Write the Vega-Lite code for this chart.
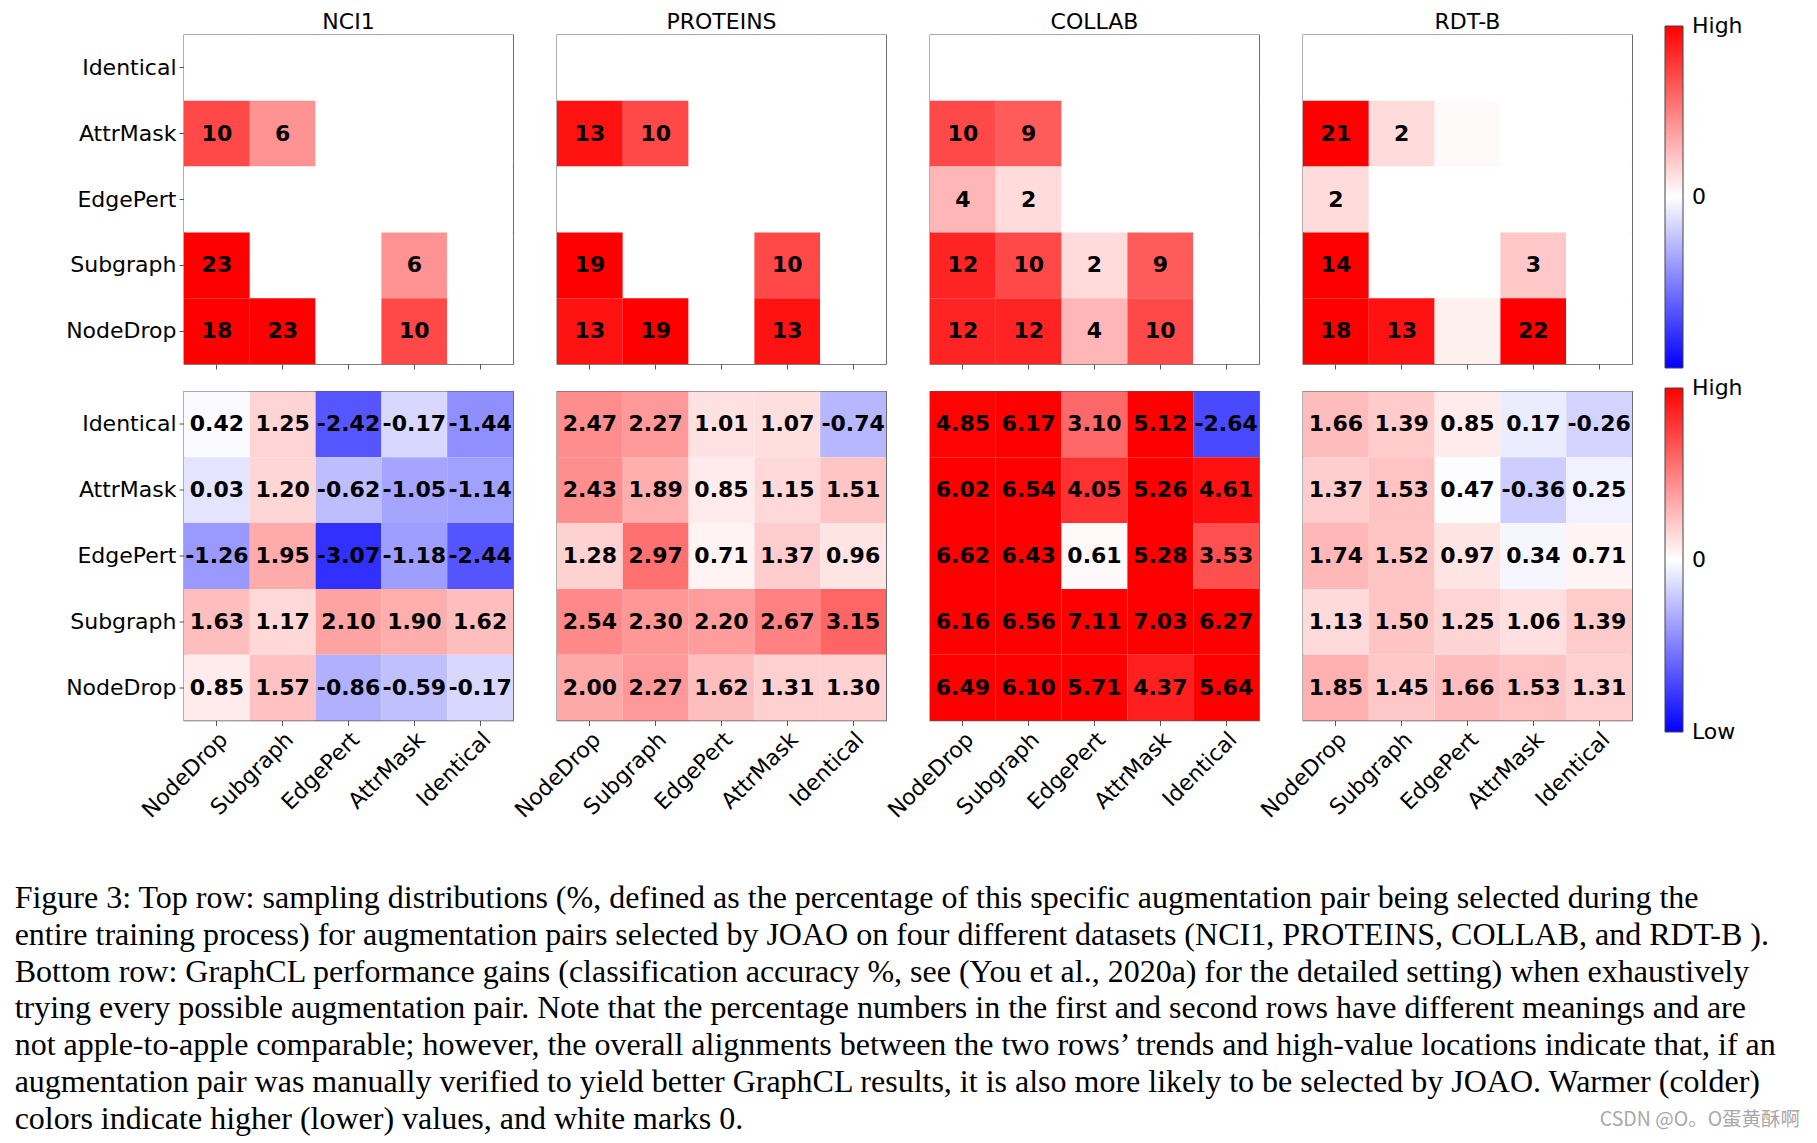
{
  "$schema": "https://vega.github.io/schema/vega-lite/v6.json",
  "background": "white",
  "padding": {"left": 14, "top": 11, "right": 5, "bottom": 5},
  "datasets": {
    "top": [
      {"d":"NCI1","r":"Identical","c":"NodeDrop","v":0},{"d":"NCI1","r":"Identical","c":"Subgraph","v":0},{"d":"NCI1","r":"Identical","c":"EdgePert","v":0},{"d":"NCI1","r":"Identical","c":"AttrMask","v":0},{"d":"NCI1","r":"Identical","c":"Identical","v":0},
      {"d":"NCI1","r":"AttrMask","c":"NodeDrop","v":10},{"d":"NCI1","r":"AttrMask","c":"Subgraph","v":6},{"d":"NCI1","r":"AttrMask","c":"EdgePert","v":0},{"d":"NCI1","r":"AttrMask","c":"AttrMask","v":0},{"d":"NCI1","r":"AttrMask","c":"Identical","v":0},
      {"d":"NCI1","r":"EdgePert","c":"NodeDrop","v":0},{"d":"NCI1","r":"EdgePert","c":"Subgraph","v":0},{"d":"NCI1","r":"EdgePert","c":"EdgePert","v":0},{"d":"NCI1","r":"EdgePert","c":"AttrMask","v":0},{"d":"NCI1","r":"EdgePert","c":"Identical","v":0},
      {"d":"NCI1","r":"Subgraph","c":"NodeDrop","v":23},{"d":"NCI1","r":"Subgraph","c":"Subgraph","v":0},{"d":"NCI1","r":"Subgraph","c":"EdgePert","v":0},{"d":"NCI1","r":"Subgraph","c":"AttrMask","v":6},{"d":"NCI1","r":"Subgraph","c":"Identical","v":0},
      {"d":"NCI1","r":"NodeDrop","c":"NodeDrop","v":18},{"d":"NCI1","r":"NodeDrop","c":"Subgraph","v":23},{"d":"NCI1","r":"NodeDrop","c":"EdgePert","v":0},{"d":"NCI1","r":"NodeDrop","c":"AttrMask","v":10},{"d":"NCI1","r":"NodeDrop","c":"Identical","v":0},
      {"d":"PROTEINS","r":"Identical","c":"NodeDrop","v":0},{"d":"PROTEINS","r":"Identical","c":"Subgraph","v":0},{"d":"PROTEINS","r":"Identical","c":"EdgePert","v":0},{"d":"PROTEINS","r":"Identical","c":"AttrMask","v":0},{"d":"PROTEINS","r":"Identical","c":"Identical","v":0},
      {"d":"PROTEINS","r":"AttrMask","c":"NodeDrop","v":13},{"d":"PROTEINS","r":"AttrMask","c":"Subgraph","v":10},{"d":"PROTEINS","r":"AttrMask","c":"EdgePert","v":0},{"d":"PROTEINS","r":"AttrMask","c":"AttrMask","v":0},{"d":"PROTEINS","r":"AttrMask","c":"Identical","v":0},
      {"d":"PROTEINS","r":"EdgePert","c":"NodeDrop","v":0},{"d":"PROTEINS","r":"EdgePert","c":"Subgraph","v":0},{"d":"PROTEINS","r":"EdgePert","c":"EdgePert","v":0},{"d":"PROTEINS","r":"EdgePert","c":"AttrMask","v":0},{"d":"PROTEINS","r":"EdgePert","c":"Identical","v":0},
      {"d":"PROTEINS","r":"Subgraph","c":"NodeDrop","v":19},{"d":"PROTEINS","r":"Subgraph","c":"Subgraph","v":0},{"d":"PROTEINS","r":"Subgraph","c":"EdgePert","v":0},{"d":"PROTEINS","r":"Subgraph","c":"AttrMask","v":10},{"d":"PROTEINS","r":"Subgraph","c":"Identical","v":0},
      {"d":"PROTEINS","r":"NodeDrop","c":"NodeDrop","v":13},{"d":"PROTEINS","r":"NodeDrop","c":"Subgraph","v":19},{"d":"PROTEINS","r":"NodeDrop","c":"EdgePert","v":0},{"d":"PROTEINS","r":"NodeDrop","c":"AttrMask","v":13},{"d":"PROTEINS","r":"NodeDrop","c":"Identical","v":0},
      {"d":"COLLAB","r":"Identical","c":"NodeDrop","v":0},{"d":"COLLAB","r":"Identical","c":"Subgraph","v":0},{"d":"COLLAB","r":"Identical","c":"EdgePert","v":0},{"d":"COLLAB","r":"Identical","c":"AttrMask","v":0},{"d":"COLLAB","r":"Identical","c":"Identical","v":0},
      {"d":"COLLAB","r":"AttrMask","c":"NodeDrop","v":10},{"d":"COLLAB","r":"AttrMask","c":"Subgraph","v":9},{"d":"COLLAB","r":"AttrMask","c":"EdgePert","v":0},{"d":"COLLAB","r":"AttrMask","c":"AttrMask","v":0},{"d":"COLLAB","r":"AttrMask","c":"Identical","v":0},
      {"d":"COLLAB","r":"EdgePert","c":"NodeDrop","v":4},{"d":"COLLAB","r":"EdgePert","c":"Subgraph","v":2},{"d":"COLLAB","r":"EdgePert","c":"EdgePert","v":0},{"d":"COLLAB","r":"EdgePert","c":"AttrMask","v":0},{"d":"COLLAB","r":"EdgePert","c":"Identical","v":0},
      {"d":"COLLAB","r":"Subgraph","c":"NodeDrop","v":12},{"d":"COLLAB","r":"Subgraph","c":"Subgraph","v":10},{"d":"COLLAB","r":"Subgraph","c":"EdgePert","v":2},{"d":"COLLAB","r":"Subgraph","c":"AttrMask","v":9},{"d":"COLLAB","r":"Subgraph","c":"Identical","v":0},
      {"d":"COLLAB","r":"NodeDrop","c":"NodeDrop","v":12},{"d":"COLLAB","r":"NodeDrop","c":"Subgraph","v":12},{"d":"COLLAB","r":"NodeDrop","c":"EdgePert","v":4},{"d":"COLLAB","r":"NodeDrop","c":"AttrMask","v":10},{"d":"COLLAB","r":"NodeDrop","c":"Identical","v":0},
      {"d":"RDT-B","r":"Identical","c":"NodeDrop","v":0},{"d":"RDT-B","r":"Identical","c":"Subgraph","v":0},{"d":"RDT-B","r":"Identical","c":"EdgePert","v":0},{"d":"RDT-B","r":"Identical","c":"AttrMask","v":0},{"d":"RDT-B","r":"Identical","c":"Identical","v":0},
      {"d":"RDT-B","r":"AttrMask","c":"NodeDrop","v":21},{"d":"RDT-B","r":"AttrMask","c":"Subgraph","v":2},{"d":"RDT-B","r":"AttrMask","c":"EdgePert","v":0.3},{"d":"RDT-B","r":"AttrMask","c":"AttrMask","v":0},{"d":"RDT-B","r":"AttrMask","c":"Identical","v":0},
      {"d":"RDT-B","r":"EdgePert","c":"NodeDrop","v":2},{"d":"RDT-B","r":"EdgePert","c":"Subgraph","v":0},{"d":"RDT-B","r":"EdgePert","c":"EdgePert","v":0},{"d":"RDT-B","r":"EdgePert","c":"AttrMask","v":0},{"d":"RDT-B","r":"EdgePert","c":"Identical","v":0},
      {"d":"RDT-B","r":"Subgraph","c":"NodeDrop","v":14},{"d":"RDT-B","r":"Subgraph","c":"Subgraph","v":0},{"d":"RDT-B","r":"Subgraph","c":"EdgePert","v":0},{"d":"RDT-B","r":"Subgraph","c":"AttrMask","v":3},{"d":"RDT-B","r":"Subgraph","c":"Identical","v":0},
      {"d":"RDT-B","r":"NodeDrop","c":"NodeDrop","v":18},{"d":"RDT-B","r":"NodeDrop","c":"Subgraph","v":13},{"d":"RDT-B","r":"NodeDrop","c":"EdgePert","v":0.8},{"d":"RDT-B","r":"NodeDrop","c":"AttrMask","v":22},{"d":"RDT-B","r":"NodeDrop","c":"Identical","v":0}
    ],
    "bottom": [
      {"d":"NCI1","r":"Identical","c":"NodeDrop","v":0.42},{"d":"NCI1","r":"Identical","c":"Subgraph","v":1.25},{"d":"NCI1","r":"Identical","c":"EdgePert","v":-2.42},{"d":"NCI1","r":"Identical","c":"AttrMask","v":-0.17},{"d":"NCI1","r":"Identical","c":"Identical","v":-1.44},
      {"d":"NCI1","r":"AttrMask","c":"NodeDrop","v":0.03},{"d":"NCI1","r":"AttrMask","c":"Subgraph","v":1.20},{"d":"NCI1","r":"AttrMask","c":"EdgePert","v":-0.62},{"d":"NCI1","r":"AttrMask","c":"AttrMask","v":-1.05},{"d":"NCI1","r":"AttrMask","c":"Identical","v":-1.14},
      {"d":"NCI1","r":"EdgePert","c":"NodeDrop","v":-1.26},{"d":"NCI1","r":"EdgePert","c":"Subgraph","v":1.95},{"d":"NCI1","r":"EdgePert","c":"EdgePert","v":-3.07},{"d":"NCI1","r":"EdgePert","c":"AttrMask","v":-1.18},{"d":"NCI1","r":"EdgePert","c":"Identical","v":-2.44},
      {"d":"NCI1","r":"Subgraph","c":"NodeDrop","v":1.63},{"d":"NCI1","r":"Subgraph","c":"Subgraph","v":1.17},{"d":"NCI1","r":"Subgraph","c":"EdgePert","v":2.10},{"d":"NCI1","r":"Subgraph","c":"AttrMask","v":1.90},{"d":"NCI1","r":"Subgraph","c":"Identical","v":1.62},
      {"d":"NCI1","r":"NodeDrop","c":"NodeDrop","v":0.85},{"d":"NCI1","r":"NodeDrop","c":"Subgraph","v":1.57},{"d":"NCI1","r":"NodeDrop","c":"EdgePert","v":-0.86},{"d":"NCI1","r":"NodeDrop","c":"AttrMask","v":-0.59},{"d":"NCI1","r":"NodeDrop","c":"Identical","v":-0.17},
      {"d":"PROTEINS","r":"Identical","c":"NodeDrop","v":2.47},{"d":"PROTEINS","r":"Identical","c":"Subgraph","v":2.27},{"d":"PROTEINS","r":"Identical","c":"EdgePert","v":1.01},{"d":"PROTEINS","r":"Identical","c":"AttrMask","v":1.07},{"d":"PROTEINS","r":"Identical","c":"Identical","v":-0.74},
      {"d":"PROTEINS","r":"AttrMask","c":"NodeDrop","v":2.43},{"d":"PROTEINS","r":"AttrMask","c":"Subgraph","v":1.89},{"d":"PROTEINS","r":"AttrMask","c":"EdgePert","v":0.85},{"d":"PROTEINS","r":"AttrMask","c":"AttrMask","v":1.15},{"d":"PROTEINS","r":"AttrMask","c":"Identical","v":1.51},
      {"d":"PROTEINS","r":"EdgePert","c":"NodeDrop","v":1.28},{"d":"PROTEINS","r":"EdgePert","c":"Subgraph","v":2.97},{"d":"PROTEINS","r":"EdgePert","c":"EdgePert","v":0.71},{"d":"PROTEINS","r":"EdgePert","c":"AttrMask","v":1.37},{"d":"PROTEINS","r":"EdgePert","c":"Identical","v":0.96},
      {"d":"PROTEINS","r":"Subgraph","c":"NodeDrop","v":2.54},{"d":"PROTEINS","r":"Subgraph","c":"Subgraph","v":2.30},{"d":"PROTEINS","r":"Subgraph","c":"EdgePert","v":2.20},{"d":"PROTEINS","r":"Subgraph","c":"AttrMask","v":2.67},{"d":"PROTEINS","r":"Subgraph","c":"Identical","v":3.15},
      {"d":"PROTEINS","r":"NodeDrop","c":"NodeDrop","v":2.00},{"d":"PROTEINS","r":"NodeDrop","c":"Subgraph","v":2.27},{"d":"PROTEINS","r":"NodeDrop","c":"EdgePert","v":1.62},{"d":"PROTEINS","r":"NodeDrop","c":"AttrMask","v":1.31},{"d":"PROTEINS","r":"NodeDrop","c":"Identical","v":1.30},
      {"d":"COLLAB","r":"Identical","c":"NodeDrop","v":4.85},{"d":"COLLAB","r":"Identical","c":"Subgraph","v":6.17},{"d":"COLLAB","r":"Identical","c":"EdgePert","v":3.10},{"d":"COLLAB","r":"Identical","c":"AttrMask","v":5.12},{"d":"COLLAB","r":"Identical","c":"Identical","v":-2.64},
      {"d":"COLLAB","r":"AttrMask","c":"NodeDrop","v":6.02},{"d":"COLLAB","r":"AttrMask","c":"Subgraph","v":6.54},{"d":"COLLAB","r":"AttrMask","c":"EdgePert","v":4.05},{"d":"COLLAB","r":"AttrMask","c":"AttrMask","v":5.26},{"d":"COLLAB","r":"AttrMask","c":"Identical","v":4.61},
      {"d":"COLLAB","r":"EdgePert","c":"NodeDrop","v":6.62},{"d":"COLLAB","r":"EdgePert","c":"Subgraph","v":6.43},{"d":"COLLAB","r":"EdgePert","c":"EdgePert","v":0.61},{"d":"COLLAB","r":"EdgePert","c":"AttrMask","v":5.28},{"d":"COLLAB","r":"EdgePert","c":"Identical","v":3.53},
      {"d":"COLLAB","r":"Subgraph","c":"NodeDrop","v":6.16},{"d":"COLLAB","r":"Subgraph","c":"Subgraph","v":6.56},{"d":"COLLAB","r":"Subgraph","c":"EdgePert","v":7.11},{"d":"COLLAB","r":"Subgraph","c":"AttrMask","v":7.03},{"d":"COLLAB","r":"Subgraph","c":"Identical","v":6.27},
      {"d":"COLLAB","r":"NodeDrop","c":"NodeDrop","v":6.49},{"d":"COLLAB","r":"NodeDrop","c":"Subgraph","v":6.10},{"d":"COLLAB","r":"NodeDrop","c":"EdgePert","v":5.71},{"d":"COLLAB","r":"NodeDrop","c":"AttrMask","v":4.37},{"d":"COLLAB","r":"NodeDrop","c":"Identical","v":5.64},
      {"d":"RDT-B","r":"Identical","c":"NodeDrop","v":1.66},{"d":"RDT-B","r":"Identical","c":"Subgraph","v":1.39},{"d":"RDT-B","r":"Identical","c":"EdgePert","v":0.85},{"d":"RDT-B","r":"Identical","c":"AttrMask","v":0.17},{"d":"RDT-B","r":"Identical","c":"Identical","v":-0.26},
      {"d":"RDT-B","r":"AttrMask","c":"NodeDrop","v":1.37},{"d":"RDT-B","r":"AttrMask","c":"Subgraph","v":1.53},{"d":"RDT-B","r":"AttrMask","c":"EdgePert","v":0.47},{"d":"RDT-B","r":"AttrMask","c":"AttrMask","v":-0.36},{"d":"RDT-B","r":"AttrMask","c":"Identical","v":0.25},
      {"d":"RDT-B","r":"EdgePert","c":"NodeDrop","v":1.74},{"d":"RDT-B","r":"EdgePert","c":"Subgraph","v":1.52},{"d":"RDT-B","r":"EdgePert","c":"EdgePert","v":0.97},{"d":"RDT-B","r":"EdgePert","c":"AttrMask","v":0.34},{"d":"RDT-B","r":"EdgePert","c":"Identical","v":0.71},
      {"d":"RDT-B","r":"Subgraph","c":"NodeDrop","v":1.13},{"d":"RDT-B","r":"Subgraph","c":"Subgraph","v":1.50},{"d":"RDT-B","r":"Subgraph","c":"EdgePert","v":1.25},{"d":"RDT-B","r":"Subgraph","c":"AttrMask","v":1.06},{"d":"RDT-B","r":"Subgraph","c":"Identical","v":1.39},
      {"d":"RDT-B","r":"NodeDrop","c":"NodeDrop","v":1.85},{"d":"RDT-B","r":"NodeDrop","c":"Subgraph","v":1.45},{"d":"RDT-B","r":"NodeDrop","c":"EdgePert","v":1.66},{"d":"RDT-B","r":"NodeDrop","c":"AttrMask","v":1.53},{"d":"RDT-B","r":"NodeDrop","c":"Identical","v":1.31}
    ]
  },
  "title": {"text": "CSDN @O。O蛋黄酥啊", "orient": "bottom", "anchor": "end", "offset": -24, "dx": 22, "font": "Noto Sans CJK SC", "fontSize": 19.5, "fontWeight": "normal", "color": "#a8a8a8"},
  "resolve": {"scale": {"color": "independent"}},
  "vconcat": [
    {
      "title": {
        "text": [
          "Figure 3: Top row: sampling distributions (%, defined as the percentage of this specific augmentation pair being selected during the",
          "entire training process) for augmentation pairs selected by JOAO on four different datasets (NCI1, PROTEINS, COLLAB, and RDT-B ).",
          "Bottom row: GraphCL performance gains (classification accuracy %, see (You et al., 2020a) for the detailed setting) when exhaustively",
          "trying every possible augmentation pair. Note that the percentage numbers in the first and second rows have different meanings and are",
          "not apple-to-apple comparable; however, the overall alignments between the two rows’ trends and high-value locations indicate that, if an",
          "augmentation pair was manually verified to yield better GraphCL results, it is also more likely to be selected by JOAO. Warmer (colder)",
          "colors indicate higher (lower) values, and white marks 0."
        ],
        "orient": "bottom", "anchor": "start", "align": "left", "dx": -51, "offset": 62,
        "font": "Liberation Serif", "fontSize": 32, "fontWeight": "normal", "color": "black", "lineHeight": 36.7
      },
      "spacing": 17.5,
      "resolve": {"scale": {"color": "independent"}},
      "vconcat": [
        {
          "data": {"name": "top"},
          "facet": {"column": {"field": "d", "type": "nominal", "sort": ["NCI1", "PROTEINS", "COLLAB", "RDT-B"], "title": null,
            "header": {"labelFont": "DejaVu Sans", "labelFontSize": 22, "labelColor": "black", "labelPadding": 1}}},
          "spacing": 44,
          "bounds": "flush",
          "spec": {
            "width": 329, "height": 329,
            "encoding": {
              "x": {"field": "c", "type": "nominal", "sort": ["NodeDrop", "Subgraph", "EdgePert", "AttrMask", "Identical"], "axis": {"labels": false}},
              "y": {"field": "r", "type": "nominal", "sort": ["Identical", "AttrMask", "EdgePert", "Subgraph", "NodeDrop"]}
            },
            "layer": [
              {"mark": {"type": "rect"},
               "encoding": {"color": {"field": "v", "type": "quantitative",
                 "scale": {"type": "linear", "domain": [-14, 0, 14], "range": ["#0000ff", "#ffffff", "#ff0000"], "interpolate": "rgb", "clamp": true, "nice": false, "zero": false},
                 "legend": {"title": null, "orient": "none", "legendX": 1481, "legendY": -9, "values": [14, 0], "labelExpr": "datum.value > 1 ? 'High' : '0'", "gradientLength": 342,
                            "encode": {"labels": {"update": {"baseline": {"value": "middle"}, "dx": {"value": 7}}}}}}}},
              {"transform": [{"filter": "datum.v >= 1"}],
               "mark": {"type": "text", "font": "DejaVu Sans", "fontWeight": "bold", "fontSize": 22, "color": "black"},
               "encoding": {"text": {"field": "v", "type": "quantitative", "format": ".0f"}}}
            ]
          }
        },
        {
          "data": {"name": "bottom"},
          "facet": {"column": {"field": "d", "type": "nominal", "sort": ["NCI1", "PROTEINS", "COLLAB", "RDT-B"], "title": null,
            "header": {"labels": false, "title": null}}},
          "spacing": 44,
          "bounds": "flush",
          "spec": {
            "width": 329, "height": 329,
            "encoding": {
              "x": {"field": "c", "type": "nominal", "sort": ["NodeDrop", "Subgraph", "EdgePert", "AttrMask", "Identical"],
                    "axis": {"labelAngle": -45, "labelAlign": "right", "labelBaseline": "top", "labelFontSize": 22, "labelPadding": 3}},
              "y": {"field": "r", "type": "nominal", "sort": ["Identical", "AttrMask", "EdgePert", "Subgraph", "NodeDrop"]}
            },
            "layer": [
              {"mark": {"type": "rect"},
               "encoding": {"color": {"field": "v", "type": "quantitative",
                 "scale": {"type": "linear", "domain": [-3.9, 0.5, 4.9], "range": ["#0000ff", "#ffffff", "#ff0000"], "interpolate": "rgb", "clamp": true, "nice": false, "zero": false},
                 "legend": {"title": null, "orient": "none", "legendX": 1481, "legendY": -3.5, "values": [4.9, 0.5, -3.9], "labelExpr": "datum.value > 1 ? 'High' : datum.value < 0 ? 'Low' : '0'", "gradientLength": 344,
                            "encode": {"labels": {"update": {"baseline": {"value": "middle"}, "dx": {"value": 7}}}}}}}},
              {"mark": {"type": "text", "font": "DejaVu Sans", "fontWeight": "bold", "fontSize": 22, "color": "black"},
               "encoding": {"text": {"field": "v", "type": "quantitative", "format": ".2f"}}}
            ]
          }
        }
      ]
    }
  ],
  "config": {
    "font": "DejaVu Sans",
    "locale": {"number": {"decimal": ".", "thousands": ",", "grouping": [3], "currency": ["$", ""], "minus": "-"}},
    "view": {"stroke": "#555555", "strokeWidth": 1.3},
    "axis": {"labelFont": "DejaVu Sans", "labelFontSize": 22, "labelColor": "black", "domain": false, "tickColor": "#555555", "tickSize": 5, "tickWidth": 1, "title": null, "labelPadding": 3},
    "legend": {"gradientThickness": 18, "gradientStrokeColor": "#444444", "gradientStrokeWidth": 1,
               "labelFont": "DejaVu Sans", "labelFontSize": 22, "labelColor": "black", "labelOverlap": false}
  }
}
